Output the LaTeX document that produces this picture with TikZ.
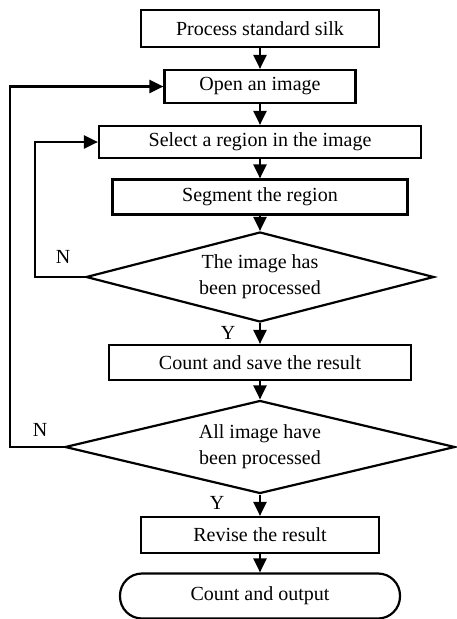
\documentclass[tikz,border=0pt]{standalone}
\usepackage{fontspec}
\setmainfont{Liberation Serif}
\usetikzlibrary{shapes.geometric,arrows.meta}
\begin{document}
\begin{tikzpicture}[x=1pt,y=-1pt]
		\tikzset{box/.style = {shape=rectangle, draw, line width=2.2pt, inner sep=0pt, font=\fontsize{20}{26}\selectfont},
			choice/.style = {shape=diamond, draw, line width=2.2pt, inner sep=0pt, shape aspect=3.9, align=center, font=\fontsize{20}{26}\selectfont},
			finish/.style = {box, rounded corners=22pt},
			flow/.style = {line width=2.2pt, -{Triangle[length=14pt,width=13pt]}},
			tag/.style = {inner sep=0pt, font=\fontsize{20}{24}\selectfont}}
		\useasboundingbox (0,0) rectangle (456,619);

		\node[box, minimum width=238pt, minimum height=37pt] (S_1) at (260,28.5) {Process standard silk};
		\node[box, minimum width=191pt, minimum height=33pt] (S_2) at (260,86.5) {Open an image};
		\node[box, minimum width=322pt, minimum height=32pt] (S_3) at (260,142) {Select a region in the image};
		\node[box, minimum width=295pt, minimum height=35pt] (S_4) at (260,197) {Segment the region};
		\node[choice, minimum width=348pt, minimum height=90pt] (D_1) at (260,277) {The image has\\been processed};
		\node[box, minimum width=302pt, minimum height=35pt] (S_5) at (260,362.5) {Count and save the result};
		\node[choice, minimum width=390pt, minimum height=93pt] (D_2) at (260,447) {All image have\\been processed};
		\node[box, minimum width=238pt, minimum height=36pt] (S_6) at (260,535) {Revise the result};
		\node[finish, minimum width=280pt, minimum height=45pt] (E_1) at (260,596) {Count and output};

		\coordinate (C_1) at (35,277);
		\coordinate (C_2) at (10,447);

		\node[tag] (N_1) at (63,257) {N};
		\node[tag] (N_2) at (40,430) {N};
		\node[tag] (Y_1) at (228,333) {Y};
		\node[tag] (Y_2) at (217,503) {Y};


		\draw[flow] (S_1)--(S_2);
		\draw[flow] (S_2)--(S_3);
		\draw[flow] (S_3)--(S_4);
		\draw[flow] (S_4)--(D_1);
		\draw[flow] (D_1)--(S_5);
		\draw[flow] (S_5)--(D_2);
		\draw[flow] (D_2)--(S_6);
		\draw[flow] (S_6)--(E_1);


		\draw[flow] (D_1.west)--(C_1)|-(S_3.west);
		\draw[flow] (D_2.west)--(C_2)|-(S_2.west);

	\end{tikzpicture}
\end{document}
